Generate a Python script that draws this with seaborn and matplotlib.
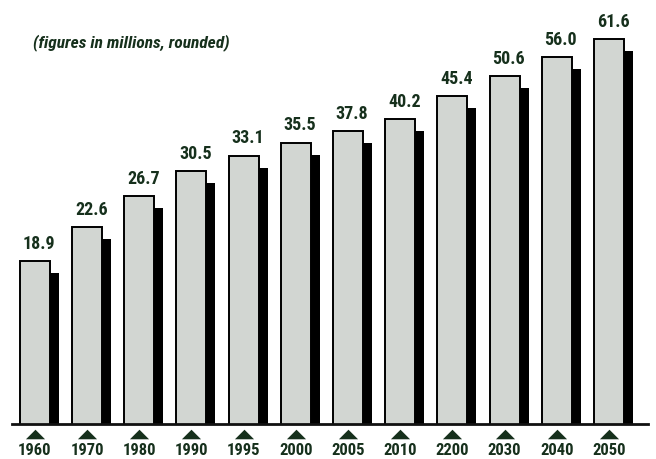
import matplotlib
matplotlib.use("Agg")
import matplotlib.pyplot as plt
import matplotlib.transforms as mtransforms
from matplotlib import font_manager
import seaborn as sns
import pandas as pd

# -------------- DATA -------------------#
years = ["1960", "1970", "1980", "1990", "1995", "2000",
         "2005", "2010", "2200", "2030", "2040", "2050"]
values = [18.9, 22.6, 26.7, 30.5, 33.1, 35.5, 37.8, 40.2, 45.4, 50.6, 56.0, 61.6]
note = "(figures in millions, rounded)"

df = pd.DataFrame({"year": years, "value": values})

# -------------- STYLE -------------------#
sns.set_theme(style="white")
names = {f.name for f in font_manager.fontManager.ttflist}
fam, fs = ["Liberation Sans", "DejaVu Sans"], 11
for cand in ["Liberation Sans Narrow", "Roboto Condensed", "DejaVu Sans Condensed",
             "Open Sans Condensed"]:
    if cand in names:
        fam, fs = [cand, "DejaVu Sans"], 13
        break
plt.rcParams["font.family"] = fam
ink = "#16301c"

fig = plt.figure(figsize=(6.56, 4.59), dpi=100)
ax = fig.add_axes([12 / 656, 35 / 459, 636 / 656, 424 / 459])

# ombre : barres noires decalees
sns.barplot(data=df, x="year", y="value", color="black", width=0.575,
            saturation=1, edgecolor="black", linewidth=0, ax=ax)
shift = mtransforms.ScaledTranslation(9 / 100, -12 / 100, fig.dpi_scale_trans)
for p in ax.containers[0]:
    p.set_transform(ax.transData + shift)

# barres principales
sns.barplot(data=df, x="year", y="value", color="#d2d6d2", width=0.575,
            saturation=1, edgecolor="black", linewidth=1.4, ax=ax)

ax.set_yscale("log")
ax.set_ylim(7.93, 75.9)
ax.set_xlim(-0.44, 11.75)

# valeurs au-dessus des barres
for r, v in zip(ax.containers[1], values):
    ax.annotate(f"{v:.1f}",
                xy=(r.get_x() + r.get_width() / 2, r.get_height()),
                xytext=(3, 6), textcoords="offset points",
                ha="center", va="bottom", fontsize=fs, fontweight="bold",
                color=ink)

# triangles sous l'axe
tri = [(-1, -0.5), (1, -0.5), (0, 0.5)]
ax.scatter(range(len(years)), [-10 / 424] * len(years), marker=tri, s=190,
           color=ink, transform=ax.get_xaxis_transform(), clip_on=False,
           linewidths=0, zorder=5)

ax.set_xlabel("")
ax.set_ylabel("")
ax.set_yticks([])
ax.yaxis.set_minor_locator(matplotlib.ticker.NullLocator())
ax.tick_params(axis="x", length=0, pad=14, labelsize=fs - 1, labelcolor=ink)
for t in ax.get_xticklabels():
    t.set_fontweight("bold")
for s in ["top", "left", "right"]:
    ax.spines[s].set_visible(False)
ax.spines["bottom"].set_linewidth(2)
ax.spines["bottom"].set_color("#111111")

fig.text(33 / 656, 1 - 43 / 459, note, ha="left", va="center",
         fontsize=fs - 0.5, fontweight="bold", fontstyle="italic", color=ink)

fig.savefig("out.png", dpi=100)
